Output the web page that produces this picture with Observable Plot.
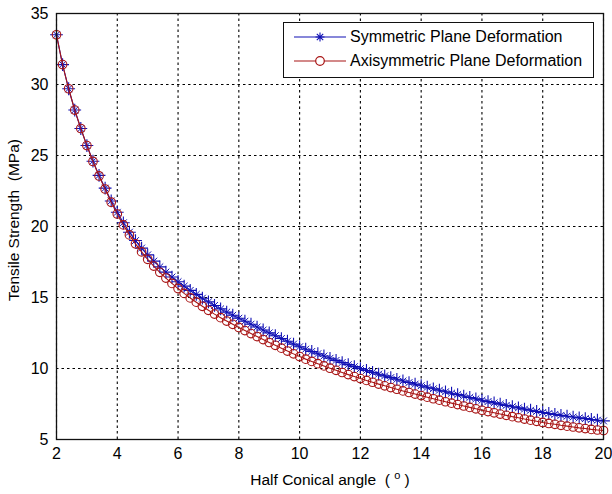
<!DOCTYPE html>
<html><head><meta charset="utf-8">
<script src="https://cdn.jsdelivr.net/npm/d3@7"></script>
<script src="https://cdn.jsdelivr.net/npm/@observablehq/plot@0.6"></script>
<style>
body{margin:0;background:#fff;}
#wrap{position:relative;width:612px;height:494px;font-family:"Liberation Sans",Arial,sans-serif;}
#legend{position:absolute;left:283px;top:22px;width:311px;height:56px;border:1px solid #111;background:#fff;box-sizing:border-box;}
.row{position:absolute;left:0;height:22px;display:flex;align-items:center;font-size:16px;color:#000;white-space:nowrap;}
.row svg{margin-left:10px;margin-right:4px;}
</style></head><body><div id="wrap"></div>
<script>
const angles = [2.0,2.2,2.4,2.6,2.8,3.0,3.2,3.4,3.6,3.8,4.0,4.2,4.4,4.6,4.8,5.0,5.2,5.4,5.6,5.8,6.0,6.2,6.4,6.6,6.8,7.0,7.2,7.4,7.6,7.8,8.0,8.2,8.4,8.6,8.8,9.0,9.2,9.4,9.6,9.8,10.0,10.2,10.4,10.6,10.8,11.0,11.2,11.4,11.6,11.8,12.0,12.2,12.4,12.6,12.8,13.0,13.2,13.4,13.6,13.8,14.0,14.2,14.4,14.6,14.8,15.0,15.2,15.4,15.6,15.8,16.0,16.2,16.4,16.6,16.8,17.0,17.2,17.4,17.6,17.8,18.0,18.2,18.4,18.6,18.8,19.0,19.2,19.4,19.6,19.8,20.0];
const symmetric = [33.50,31.40,29.70,28.20,26.90,25.70,24.60,23.60,22.70,21.80,21.00,20.26,19.60,19.01,18.48,18.00,17.56,17.16,16.79,16.44,16.11,15.80,15.50,15.22,14.95,14.69,14.44,14.20,13.97,13.75,13.54,13.33,13.12,12.92,12.71,12.51,12.31,12.11,11.92,11.72,11.53,11.36,11.20,11.04,10.88,10.72,10.57,10.42,10.27,10.13,9.99,9.86,9.73,9.60,9.48,9.36,9.24,9.12,9.01,8.90,8.79,8.68,8.57,8.47,8.36,8.26,8.16,8.06,7.96,7.86,7.76,7.67,7.58,7.49,7.40,7.31,7.23,7.14,7.06,6.98,6.90,6.83,6.77,6.70,6.64,6.58,6.52,6.47,6.41,6.36,6.31];
const axisymmetric = [33.50,31.40,29.70,28.20,26.90,25.70,24.58,23.56,22.64,21.71,20.88,20.11,19.41,18.78,18.21,17.69,17.21,16.77,16.37,15.99,15.63,15.29,14.97,14.67,14.38,14.10,13.83,13.58,13.34,13.11,12.89,12.67,12.46,12.25,12.04,11.83,11.63,11.43,11.23,11.03,10.84,10.66,10.50,10.34,10.18,10.02,9.87,9.72,9.57,9.43,9.29,9.16,9.03,8.90,8.78,8.66,8.54,8.42,8.31,8.20,8.09,7.98,7.87,7.77,7.66,7.56,7.46,7.36,7.26,7.16,7.06,6.97,6.88,6.79,6.70,6.61,6.53,6.44,6.36,6.28,6.20,6.13,6.07,6.00,5.94,5.88,5.82,5.77,5.71,5.67,5.63];
const xTicks = [2,4,6,8,10,12,14,16,18,20];
const yTicks = [5,10,15,20,25,30,35];
const seriesNames = ["Symmetric Plane Deformation","Axisymmetric Plane Deformation"];
const xLabelText = "Half Conical angle  ( ";
const xLabelSup = "o";
const yLabelText = "Tensile Strength  (MPa)";

const blue = "#1010b4", red = "#a81414";
const symData = angles.map((a,i)=>({x:a,y:symmetric[i]}));
const axiData = angles.map((a,i)=>({x:a,y:axisymmetric[i]}));

const plot = Plot.plot({
  width: 612, height: 494,
  marginLeft: 56, marginRight: 9, marginTop: 13, marginBottom: 55,
  style: {fontFamily: '"Liberation Sans", Arial, sans-serif', fontSize: "16px", color: "#000", background: "#fff"},
  x: {domain: [2,20], ticks: xTicks, tickSize: 0, tickPadding: 8, label: null},
  y: {domain: [5,35], ticks: yTicks, tickSize: 0, tickPadding: 8, label: null},
  marks: [
    Plot.gridX(xTicks, {stroke: "#000", strokeOpacity: 1, strokeWidth: 1.1, strokeDasharray: "2.5,3"}),
    Plot.gridY(yTicks, {stroke: "#000", strokeOpacity: 1, strokeWidth: 1.1, strokeDasharray: "2.5,3"}),
    Plot.line(symData, {x:"x", y:"y", stroke: blue, strokeWidth: 1.1}),
    Plot.dot(symData, {x:"x", y:"y", symbol:"plus", r:4.2, stroke: blue, strokeWidth: 1.1}),
    Plot.dot(symData, {x:"x", y:"y", symbol:"times", r:3.2, stroke: blue, strokeWidth: 1}),
    Plot.line(axiData, {x:"x", y:"y", stroke: red, strokeWidth: 1.1}),
    Plot.dot(axiData, {x:"x", y:"y", symbol:"circle", r:4.3, stroke: red, fill: "none", strokeWidth: 1.1}),
    Plot.frame({stroke: "#111", strokeWidth: 1.3})
  ]
});

const svg = d3.select(plot);
const xt = svg.append("text").attr("x", 330).attr("y", 485).attr("text-anchor","middle")
  .style("white-space","pre").attr("font-size", 15.5).attr("fill","#000");
xt.append("tspan").text(xLabelText);
xt.append("tspan").attr("dy", -6).attr("font-size", 11).text(xLabelSup);
xt.append("tspan").attr("dy", 6).text(" )");
svg.append("text").attr("transform","translate(19,220) rotate(-90)").attr("text-anchor","middle")
  .style("white-space","pre").attr("font-size", 15.5).attr("fill","#000").text(yLabelText);

const wrap = document.getElementById("wrap");
wrap.appendChild(plot);

const legend = document.createElement("div");
legend.id = "legend";
const rows = [
  {name: seriesNames[0], color: blue, kind: "star", top: 3},
  {name: seriesNames[1], color: red, kind: "circle", top: 27}
];
for (const r of rows) {
  const row = document.createElement("div");
  row.className = "row";
  row.style.top = r.top + "px";
  const s = d3.create("svg").attr("width", 52).attr("height", 16);
  s.append("line").attr("x1",0).attr("x2",52).attr("y1",8).attr("y2",8).attr("stroke", r.color).attr("stroke-width",1.2);
  if (r.kind === "star") {
    s.append("path").attr("d","M26,3.5V12.5M21.5,8H30.5M22.8,4.8L29.2,11.2M22.8,11.2L29.2,4.8").attr("stroke", r.color).attr("stroke-width",1.1).attr("fill","none");
  } else {
    s.append("circle").attr("cx",26).attr("cy",8).attr("r",4.3).attr("stroke", r.color).attr("fill","#fff").attr("stroke-width",1.2);
  }
  row.appendChild(s.node());
  const t = document.createElement("span");
  t.textContent = r.name;
  row.appendChild(t);
  legend.appendChild(row);
}
wrap.appendChild(legend);
</script>
</body></html>
